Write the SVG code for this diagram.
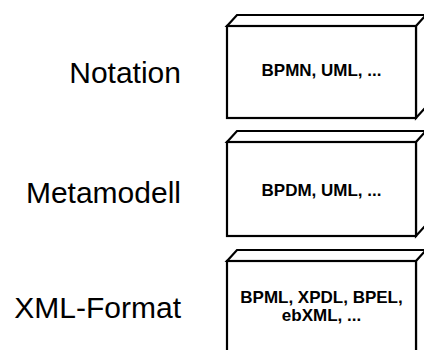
<svg xmlns="http://www.w3.org/2000/svg" width="424" height="350" viewBox="0 0 424 350">
  <style>
    .face { fill: #ffffff; stroke: #000000; stroke-width: 2.2; stroke-linejoin: miter; }
    .layer { font-family: "Liberation Sans", Arial, sans-serif; font-size: 30px; fill: #000000; text-anchor: end; }
    .content { font-family: "Liberation Sans", Arial, sans-serif; font-size: 17px; font-weight: bold; fill: #000000; text-anchor: middle; }
  </style>
  <rect width="424" height="350" fill="#ffffff"/>

  <!-- Layer names -->
  <g id="label-notation"><text class="layer" x="181" y="83">Notation</text></g>
  <g id="label-metamodell"><text class="layer" x="181" y="203">Metamodell</text></g>
  <g id="label-xml-format"><text class="layer" x="181" y="318">XML-Format</text></g>

  <!-- Notation block -->
  <g id="block-notation">
    <polygon class="face" points="227,26 237,15 436,15 426,26"/>
    <polygon class="face" points="416,26 436,4 436,96 416,118"/>
    <rect class="face" x="227" y="26" width="189" height="92"/>
    <text class="content" x="321.5" y="76">BPMN, UML, ...</text>
  </g>

  <!-- Metamodell block -->
  <g id="block-metamodell">
    <polygon class="face" points="227,142 237,131 436,131 426,142"/>
    <polygon class="face" points="416,142 436,120 436,214 416,236"/>
    <rect class="face" x="227" y="142" width="189" height="94"/>
    <text class="content" x="321.5" y="196">BPDM, UML, ...</text>
  </g>

  <!-- XML format block -->
  <g id="block-xml-format">
    <polygon class="face" points="227,261 237,250 436,250 426,261"/>
    <polygon class="face" points="416,261 436,239 436,360 416,360"/>
    <rect class="face" x="227" y="261" width="189" height="100"/>
    <text class="content" x="321.5" y="303">BPML, XPDL, BPEL,</text>
    <text class="content" x="321.5" y="321">ebXML, ...</text>
  </g>

  <g id="connectors"/>
</svg>
